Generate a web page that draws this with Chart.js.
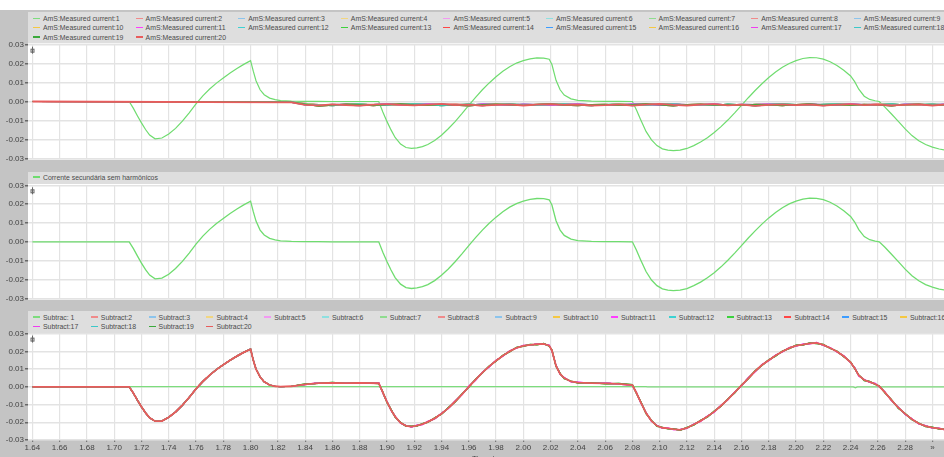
<!DOCTYPE html>
<html><head><meta charset="utf-8">
<script src="https://cdn.jsdelivr.net/npm/chart.js@4.4.1/dist/chart.umd.min.js"></script>
<style>
html,body{margin:0;padding:0;}
body{width:944px;height:457px;overflow:hidden;background:#c4c4c4;position:relative;font-family:"Liberation Sans",Arial,sans-serif;}
canvas{position:absolute;left:0;}
.lg{position:absolute;left:28px;width:916px;background:#dedede;z-index:2;overflow:hidden;}
.it{position:absolute;height:10px;line-height:10px;font-size:6.9px;color:#4a4a4a;white-space:nowrap;}
.it i{display:inline-block;width:7px;height:1.5px;vertical-align:middle;margin-right:3px;position:relative;top:-1px;}
</style></head>
<body>
<div style="position:absolute;left:0;top:0;width:944px;height:10px;background:#fff"></div>
<canvas id="c1" width="944" height="130" style="top:35px"></canvas>
<canvas id="c2" width="944" height="130" style="top:175px"></canvas>
<canvas id="c3" width="944" height="139" style="top:325px"></canvas>
<div class="lg" id="lg1" style="top:12px;height:31px"></div>
<div class="lg" id="lg2" style="top:172px;height:12px"></div>
<div class="lg" id="lg3" style="top:311px;height:22px"></div>
<script>
// ---------------- DATA ----------------
const measuredNames = ['AmS:Measured current:1','AmS:Measured current:2','AmS:Measured current:3','AmS:Measured current:4','AmS:Measured current:5','AmS:Measured current:6','AmS:Measured current:7','AmS:Measured current:8','AmS:Measured current:9','AmS:Measured current:10','AmS:Measured current:11','AmS:Measured current:12','AmS:Measured current:13','AmS:Measured current:14','AmS:Measured current:15','AmS:Measured current:16','AmS:Measured current:17','AmS:Measured current:18','AmS:Measured current:19','AmS:Measured current:20'];
const subtractNames = ['Subtrac: 1','Subtract:2','Subtract:3','Subtract:4','Subtract:5','Subtract:6','Subtract:7','Subtract:8','Subtract:9','Subtract:10','Subtract:11','Subtract:12','Subtract:13','Subtract:14','Subtract:15','Subtract:16','Subtract:17','Subtract:18','Subtract:19','Subtract:20'];
const secondaryName = 'Corrente secundária sem harmônicos';

const xTicks = [1.64,1.66,1.68,1.70,1.72,1.74,1.76,1.78,1.80,1.82,1.84,1.86,1.88,1.90,1.92,1.94,1.96,1.98,2.00,2.02,2.04,2.06,2.08,2.10,2.12,2.14,2.16,2.18,2.20,2.22,2.24,2.26,2.28,2.30];
const xTickLabels = ['1.64','1.66','1.68','1.70','1.72','1.74','1.76','1.78','1.80','1.82','1.84','1.86','1.88','1.90','1.92','1.94','1.96','1.98','2.00','2.02','2.04','2.06','2.08','2.10','2.12','2.14','2.16','2.18','2.20','2.22','2.24','2.26','2.28','»'];
const yTicks = [-0.03,-0.02,-0.01,0,0.01,0.02,0.03];
const yTickLabels = ['-0.03','-0.02','-0.01','0.00','0.01','0.02','0.03'];

// time samples of the main waveforms (s)
const T = [1.640,1.711,1.714,1.717,1.720,1.723,1.726,1.730,1.735,1.740,
 1.745,1.750,1.755,1.760,1.765,1.770,1.775,1.780,1.785,1.790,
 1.795,1.800,1.802,1.804,1.807,1.810,1.814,1.818,1.822,1.830,
 1.840,1.850,1.860,1.870,1.880,1.894,1.897,1.900,1.903,1.906,
 1.910,1.914,1.918,1.922,1.926,1.930,1.935,1.940,1.945,1.950,
 1.955,1.960,1.965,1.970,1.975,1.980,1.985,1.990,1.995,2.000,
 2.005,2.010,2.015,2.019,2.021,2.024,2.027,2.030,2.035,2.040,
 2.050,2.060,2.070,2.080,2.083,2.086,2.090,2.094,2.098,2.102,
 2.106,2.110,2.115,2.120,2.125,2.130,2.135,2.140,2.145,2.150,
 2.155,2.160,2.165,2.170,2.175,2.180,2.185,2.190,2.195,2.200,
 2.205,2.210,2.215,2.220,2.225,2.230,2.235,2.240,2.243,2.246,
 2.250,2.254,2.258,2.261,2.265,2.270,2.275,2.280,2.285,2.290,
 2.295,2.300,2.305,2.310];

// secondary current without harmonics (also Measured current:1)
const secondary = [0,0,-0.0035,-0.0075,-0.0113,-0.0148,-0.0177,-0.0197,-0.0193,-0.0172,
 -0.0142,-0.0104,-0.0060,-0.0012,0.0030,0.0066,0.0097,0.0124,0.0150,0.0174,
 0.0196,0.0216,0.0160,0.0110,0.0062,0.0036,0.0018,0.0010,0.0005,0.0002,
 0.0001,0.0001,0,0,0,0,-0.0055,-0.0105,-0.0150,-0.0190,
 -0.0225,-0.0243,-0.0248,-0.0245,-0.0238,-0.0227,-0.0206,-0.0178,-0.0144,-0.0106,
 -0.0064,-0.0020,0.0022,0.0062,0.0098,0.0131,0.0160,0.0184,0.0203,0.0216,
 0.0225,0.0230,0.0229,0.0223,0.0195,0.0112,0.0062,0.0034,0.0014,0.0006,
 0.0002,0.0001,0.0001,0,-0.0045,-0.0095,-0.0158,-0.0203,-0.0233,-0.0250,
 -0.0257,-0.0259,-0.0257,-0.0248,-0.0233,-0.0214,-0.0191,-0.0164,-0.0133,-0.0098,
 -0.0060,-0.0020,0.0020,0.0058,0.0094,0.0127,0.0156,0.0181,0.0201,0.0216,
 0.0227,0.0232,0.0231,0.0224,0.0210,0.0190,0.0165,0.0135,0.0105,0.0065,
 0.0028,0.0011,0.0004,0,-0.0028,-0.0066,-0.0105,-0.0145,-0.0180,-0.0207,
 -0.0227,-0.0241,-0.0251,-0.0257];

// measured currents 2..20 (small residuals), time samples
const TN = [1.640,1.830,1.840,1.850,1.860,1.870,1.880,1.890,1.900,1.910,
 1.920,1.930,1.940,1.950,1.960,1.970,1.980,1.990,2.000,2.010,
 2.020,2.030,2.040,2.050,2.060,2.070,2.080,2.090,2.100,2.110,
 2.120,2.130,2.140,2.150,2.160,2.170,2.180,2.190,2.200,2.210,
 2.220,2.230,2.240,2.250,2.260,2.270,2.280,2.290,2.300,2.310];
const residualA = [0,-0.0004,-0.0016,-0.0021,-0.0017,-0.0015,-0.0020,-0.0016,-0.0013,-0.0019,
 -0.0016,-0.0012,-0.0018,-0.0015,-0.0020,-0.0013,-0.0017,-0.0019,-0.0014,-0.0016,
 -0.0021,-0.0015,-0.0012,-0.0018,-0.0016,-0.0019,-0.0013,-0.0017,-0.0020,-0.0014,
 -0.0016,-0.0018,-0.0013,-0.0019,-0.0015,-0.0017,-0.0012,-0.0018,-0.0020,-0.0014,
 -0.0016,-0.0019,-0.0013,-0.0017,-0.0015,-0.0020,-0.0014,-0.0016,-0.0018,-0.0013];
const residualB = [0,-0.0002,-0.0012,-0.0018,-0.0022,-0.0016,-0.0013,-0.0019,-0.0021,-0.0015,
 -0.0012,-0.0017,-0.0022,-0.0018,-0.0014,-0.0019,-0.0016,-0.0012,-0.0018,-0.0021,
 -0.0016,-0.0013,-0.0019,-0.0022,-0.0017,-0.0014,-0.0018,-0.0021,-0.0015,-0.0012,
 -0.0019,-0.0016,-0.0021,-0.0014,-0.0018,-0.0022,-0.0015,-0.0013,-0.0017,-0.0020,
 -0.0015,-0.0012,-0.0018,-0.0021,-0.0016,-0.0013,-0.0019,-0.0017,-0.0014,-0.0018];
const residualC = [0,-0.0003,-0.0014,-0.0024,-0.0019,-0.0014,-0.0017,-0.0022,-0.0016,-0.0013,
 -0.0018,-0.0021,-0.0015,-0.0019,-0.0023,-0.0016,-0.0014,-0.0018,-0.0020,-0.0015,
 -0.0013,-0.0019,-0.0022,-0.0017,-0.0015,-0.0020,-0.0016,-0.0013,-0.0018,-0.0023,
 -0.0017,-0.0014,-0.0019,-0.0016,-0.0021,-0.0015,-0.0018,-0.0022,-0.0016,-0.0013,
 -0.0019,-0.0017,-0.0021,-0.0015,-0.0018,-0.0023,-0.0016,-0.0014,-0.0020,-0.0017];
const residualD = [0,-0.0005,-0.0018,-0.0020,-0.0015,-0.0019,-0.0022,-0.0017,-0.0014,-0.0018,
 -0.0020,-0.0016,-0.0013,-0.0019,-0.0017,-0.0022,-0.0018,-0.0015,-0.0021,-0.0017,
 -0.0014,-0.0018,-0.0016,-0.0021,-0.0019,-0.0015,-0.0022,-0.0017,-0.0013,-0.0018,
 -0.0021,-0.0016,-0.0014,-0.0020,-0.0017,-0.0023,-0.0018,-0.0015,-0.0019,-0.0016,
 -0.0022,-0.0017,-0.0014,-0.0019,-0.0016,-0.0020,-0.0018,-0.0015,-0.0021,-0.0016];
const residualE = [0,-0.0003,-0.0010,-0.0016,-0.0020,-0.0018,-0.0014,-0.0017,-0.0021,-0.0019,
 -0.0015,-0.0019,-0.0017,-0.0013,-0.0019,-0.0022,-0.0015,-0.0018,-0.0016,-0.0020,
 -0.0018,-0.0014,-0.0016,-0.0021,-0.0019,-0.0013,-0.0017,-0.0020,-0.0016,-0.0014,
 -0.0020,-0.0017,-0.0015,-0.0019,-0.0021,-0.0016,-0.0014,-0.0019,-0.0017,-0.0021,
 -0.0016,-0.0015,-0.0020,-0.0018,-0.0013,-0.0017,-0.0021,-0.0019,-0.0015,-0.0018];

// Subtract:1 (flat)
const sub1T = [1.640,2.090,2.091,2.242,2.2435,2.245,2.310];
const sub1V = [0.0001,0.0001,0,0,-0.0006,0,0];
// Subtract:2..20, first part (T 1.640..1.830) common to all
const subPre = [0,0,-0.0035,-0.0075,-0.0113,-0.0147,-0.0175,-0.0194,-0.0193,-0.0172,
 -0.0142,-0.0104,-0.0060,-0.0012,0.0030,0.0066,0.0097,0.0124,0.0150,0.0173,
 0.0194,0.0212,0.0150,0.0100,0.0055,0.0028,0.0010,0.0003,0.0001,0.0003];
// second part (T 1.840..2.310), three slightly different traces
const subPostA = [0.0014,0.0021,0.0022,0.0021,0.0022,0.0020,-0.0032,-0.0085,-0.0130,-0.0168,
 -0.0203,-0.0220,-0.0224,-0.0219,-0.0210,-0.0198,-0.0178,-0.0152,-0.0120,-0.0083,
 -0.0043,0.0000,0.0040,0.0080,0.0115,0.0147,0.0175,0.0200,0.0220,0.0231,
 0.0236,0.0240,0.0242,0.0232,0.0205,0.0118,0.0073,0.0049,0.0030,0.0024,
 0.0021,0.0019,0.0017,0.0010,-0.0035,-0.0085,-0.0148,-0.0192,-0.0220,-0.0231,
 -0.0235,-0.0239,-0.0243,-0.0232,-0.0213,-0.0192,-0.0168,-0.0140,-0.0107,-0.0071,
 -0.0032,0.0008,0.0048,0.0088,0.0123,0.0150,0.0176,0.0199,0.0218,0.0232,
 0.0238,0.0245,0.0247,0.0236,0.0219,0.0199,0.0172,0.0138,0.0105,0.0064,
 0.0038,0.0028,0.0016,0.0003,-0.0030,-0.0075,-0.0118,-0.0153,-0.0183,-0.0207,
 -0.0222,-0.0230,-0.0236,-0.0242];
const subPostB = [0.0017,0.0019,0.0025,0.0019,0.0024,0.0018,-0.0029,-0.0088,-0.0127,-0.0171,
 -0.0200,-0.0223,-0.0221,-0.0222,-0.0207,-0.0201,-0.0175,-0.0155,-0.0117,-0.0086,
 -0.0040,-0.0003,0.0043,0.0077,0.0118,0.0144,0.0178,0.0197,0.0223,0.0228,
 0.0239,0.0237,0.0245,0.0229,0.0208,0.0115,0.0076,0.0046,0.0033,0.0021,
 0.0024,0.0016,0.0020,0.0013,-0.0038,-0.0082,-0.0151,-0.0189,-0.0223,-0.0228,
 -0.0238,-0.0236,-0.0246,-0.0229,-0.0216,-0.0189,-0.0171,-0.0137,-0.0110,-0.0068,
 -0.0035,0.0011,0.0045,0.0091,0.0120,0.0153,0.0173,0.0202,0.0215,0.0235,
 0.0235,0.0248,0.0244,0.0239,0.0216,0.0202,0.0169,0.0141,0.0102,0.0067,
 0.0035,0.0031,0.0013,0.0006,-0.0033,-0.0072,-0.0121,-0.0150,-0.0186,-0.0204,
 -0.0225,-0.0227,-0.0239,-0.0239];
const subPostC = [0.0012,0.0024,0.0020,0.0024,0.0020,0.0023,-0.0035,-0.0082,-0.0133,-0.0165,
 -0.0206,-0.0218,-0.0227,-0.0216,-0.0213,-0.0195,-0.0181,-0.0149,-0.0123,-0.0080,
 -0.0046,0.0003,0.0037,0.0083,0.0112,0.0150,0.0172,0.0203,0.0218,0.0234,
 0.0233,0.0243,0.0240,0.0235,0.0202,0.0121,0.0070,0.0052,0.0027,0.0027,
 0.0019,0.0022,0.0015,0.0008,-0.0032,-0.0088,-0.0145,-0.0195,-0.0217,-0.0234,
 -0.0232,-0.0242,-0.0240,-0.0235,-0.0210,-0.0195,-0.0165,-0.0143,-0.0104,-0.0074,
 -0.0029,0.0005,0.0051,0.0085,0.0126,0.0147,0.0179,0.0196,0.0221,0.0229,
 0.0241,0.0242,0.0250,0.0233,0.0222,0.0196,0.0175,0.0135,0.0108,0.0061,
 0.0041,0.0025,0.0019,0.0000,-0.0027,-0.0078,-0.0115,-0.0156,-0.0180,-0.0210,
 -0.0219,-0.0233,-0.0233,-0.0245];
// which trace each Subtract:2..20 follows
const subVariantOf = ['A','A','A','A','A','A','A','A','A','C','A','B','A','A','A','C','A','B','A'];
// which residual each Measured current:2..20 follows
const residualOf = ['A','B','C','D','E','A','B','C','D','E','A','B','C','D','E','A','B','C','D'];

// ---------------- STYLE ----------------
const palette = ['#7ddc7d','#f08a8a','#8cc4ec','#f2d680','#f29af2','#8ee0e0','#8fdc8f','#f08a8a','#8cc4ec','#f5c842',
 '#ff3cff','#3cd2d2','#3cd23c','#ff4646','#3c9cff','#f5c842','#f03cf0','#3cc8c8','#3caa3c','#e85c5c'];
const secColor = '#6fdc6f';
const X_MIN = 1.6368, X_MAX = 2.3085;
const FONT = {family:'"Liberation Sans", Arial, sans-serif', size:8};

const residuals = {A:residualA, B:residualB, C:residualC, D:residualD, E:residualE};
const subPosts = {A:subPostA, B:subPostB, C:subPostC};
function pts(xs, ys){ return xs.map((x,i)=>({x:x, y:ys[i]})); }
function line(label, data, color, order, width){
  return {label, data, borderColor:color, backgroundColor:color, borderWidth:width, pointRadius:0, fill:false, tension:0, order};
}

const topSets = measuredNames.map((n,i)=> line(n,
  i===0 ? pts(T, secondary) : pts(TN, residuals[residualOf[i-1]]),
  i===0 ? secColor : palette[i], 20-i, i===19 ? 1.8 : 1.2));
const midSets = [line(secondaryName, pts(T, secondary), secColor, 0, 1.3)];
const botSets = subtractNames.map((n,i)=> line(n,
  i===0 ? pts(sub1T, sub1V) : pts(T, subPre.concat(subPosts[subVariantOf[i-1]])),
  palette[i], 20-i, i===19 ? 1.8 : (i===0 ? 1.3 : 1.2)));

const panelPlugin = {
  id:'panel',
  beforeDraw(chart){
    const {ctx, chartArea:a} = chart;
    const ext = chart.options.plugins.panel.ext;
    ctx.save(); ctx.fillStyle = '#ffffff';
    ctx.fillRect(a.left, a.top-1.5, a.right-a.left, a.bottom-a.top+1.5+ext);
    ctx.restore();
  },
  afterDraw(chart){
    const {ctx, chartArea:a} = chart;
    const x = a.left+4, y = a.top+2;
    ctx.save(); ctx.strokeStyle = '#666'; ctx.lineWidth = 1;
    ctx.beginPath(); ctx.moveTo(x+0.5, y); ctx.lineTo(x+0.5, y+7); ctx.stroke();
    ctx.strokeRect(x-1, y+2.5, 3, 3);
    ctx.restore();
  }
};

function options(showX, padTop, padBottom, xHeight, ext){
  return {
    responsive:false, animation:false, devicePixelRatio:1, events:[],
    layout:{padding:{top:padTop, bottom:padBottom, left:0, right:0}},
    plugins:{legend:{display:false}, tooltip:{enabled:false}, panel:{ext}},
    scales:{
      x:{type:'linear', min:X_MIN, max:X_MAX,
        afterBuildTicks:s=>{ s.ticks = xTicks.map(v=>({value:v})); },
        afterFit:s=>{ s.height = xHeight; },
        grid:{color:'#e3e3e3', lineWidth:1.2, drawTicks:showX, tickLength:2, tickColor:'#777'},
        border:{display:false},
        ticks:{display:showX, autoSkip:false, maxRotation:0, padding:1, color:'#444', font:FONT,
          callback:(v,i)=>xTickLabels[i]},
        title:{display:showX, text:'Time / s', color:'#444', font:FONT, padding:0}
      },
      y:{min:-0.03, max:0.03,
        afterBuildTicks:s=>{ s.ticks = yTicks.map(v=>({value:v})); },
        afterFit:s=>{ s.width = 28; },
        grid:{color:'#e3e3e3', lineWidth:1.5, tickLength:3, tickColor:'#666'},
        border:{display:false},
        ticks:{padding:1, color:'#444', font:FONT, callback:(v,i)=>yTickLabels[i]}
      }
    }
  };
}

new Chart(document.getElementById('c1'), {type:'line', data:{datasets:topSets}, options:options(false, 9.7, 6.7, 0, 1.5), plugins:[panelPlugin]});
new Chart(document.getElementById('c2'), {type:'line', data:{datasets:midSets}, options:options(false, 10.3, 6.7, 0, 1.5), plugins:[panelPlugin]});
new Chart(document.getElementById('c3'), {type:'line', data:{datasets:botSets}, options:options(true, 8.6, 0, 24, 0), plugins:[panelPlugin]});

// ---------------- LEGENDS ----------------
function addItem(box, text, color, left, top){
  const d = document.createElement('div');
  d.className = 'it'; d.style.left = left+'px'; d.style.top = top+'px';
  const m = document.createElement('i'); m.style.background = color;
  d.appendChild(m); d.appendChild(document.createTextNode(text));
  box.appendChild(d);
}
const lg1 = document.getElementById('lg1');
measuredNames.forEach((n,i)=>{
  const r = Math.floor(i/9), c = i%9;
  addItem(lg1, n, palette[i], 5 + c*102.6, [2.3, 11.3, 20.7][r]);
});
addItem(document.getElementById('lg2'), secondaryName, secColor, 5, 1);
const lg3 = document.getElementById('lg3');
subtractNames.forEach((n,i)=>{
  const r = Math.floor(i/16), c = i%16;
  addItem(lg3, n, palette[i], 5 + c*57.8, [1.7, 11.3][r]);
});
</script>
</body></html>
